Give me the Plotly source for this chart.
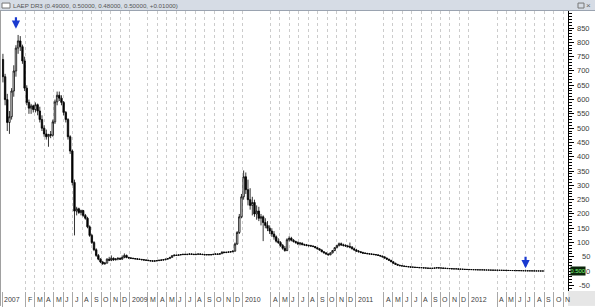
import plotly.graph_objects as go
import pandas as pd

title_text = "LAEP DR3 (0.49000, 0.50000, 0.48000, 0.50000, +0.01000)"
first_week = "2007-11-19"

opens = [740,680,600,520,540,630,700,780,805,785,
 735,640,590,570,578,565,582,560,530,500,
 480,470,478,475,522,592,615,605,590,555,
 530,470,420,310,210,218,205,212,195,185,
 155,125,100,75,55,42,32,26,28,42,
 38,45,40,42,45,42,48,55,48,46,
 45,44,43,42,41,40,39,38,37,36,
 35,36,37,38,39,40,42,44,48,54,
 56,55,57,58,59,58,59,60,59,58,
 59,60,59,58,57,58,57,58,59,60,
 59,61,66,65,66,67,68,70,95,135,
 190,260,330,285,250,230,240,200,210,185,
 190,170,160,150,140,130,120,105,100,90,
 80,72,110,115,108,104,100,95,98,93,
 92,90,89,88,86,82,78,74,68,64,
 60,57,64,72,82,90,96,92,90,88,
 86,84,78,74,70,68,65,63,62,61,
 60,59,58,57,55,53,50,46,42,38,
 33,28,24,21,19,18,17,16,15,14,
 14,13,13,12,12,11,11,10,10,10,
 11,12,11,11,10,10,9,9,8,8,
 8,7,7,6.5,6,6,5.5,5.5,5,5,
 4.5,4.5,4.5,4,4,3.8,3.6,3.5,3.3,3.2,
 3,2.9,2.7,2.6,2.4,2.3,2.1,2,1.9,1.7,
 1.6,1.4,1.3,1.1,1,0.9,0.8,0.7,0.6,0.49]

highs = [760,690,620,560,640,720,790,826,822,792,
 750,650,600,585,582,590,586,575,545,510,
 495,480,490,530,600,628,628,615,595,560,
 535,475,425,320,225,222,215,214,200,190,
 160,130,105,80,60,45,36,32,45,50,
 55,48,46,48,47,55,62,58,50,49,
 47,46,45,44,43,42,41,40,39,38,
 37,38,40,41,42,43,45,50,56,58,
 58,58,59,60,61,60,62,62,61,60,
 61,62,61,60,59,60,59,60,62,62,
 62,70,69,68,69,70,72,100,140,200,
 270,352,345,320,290,260,250,230,225,200,
 195,185,175,160,150,140,125,115,105,95,
 88,115,122,120,112,106,104,102,100,96,
 95,93,92,90,88,84,80,76,70,66,
 62,66,74,84,92,100,100,96,94,92,
 100,88,82,78,74,70,68,66,64,63,
 62,61,60,58,56,54,51,47,43,39,
 34,29,25,22,20,19,18,17,16,15,
 15,14,14,13,13,12,12,11,11,12,
 13,13,12,12,11,11,10,10,9,9,
 8.5,8,7.5,7,7,6.5,6,6,5.5,5.5,
 5,5,5,4.5,4.5,4.2,4,3.8,3.6,3.5,
 3.3,3.1,3,2.8,2.6,2.5,2.3,2.2,2,1.9,
 1.7,1.5,1.4,1.2,1.1,1,0.9,0.8,0.65,0.5]

lows = [660,580,490,480,530,610,680,760,770,725,
 630,580,550,550,555,555,545,520,490,470,
 460,435,465,470,515,580,595,580,545,520,
 460,410,300,125,195,200,195,190,180,150,
 120,95,70,50,38,28,22,22,27,35,
 35,36,37,38,40,40,45,45,44,43,
 42,41,40,39,38,37,36,35,34,34,
 33,34,35,36,37,38,40,43,47,52,
 53,54,55,56,57,56,57,58,57,56,
 57,58,57,56,55,56,55,56,57,58,
 58,60,63,63,64,65,66,68,92,130,
 185,250,270,230,215,195,190,180,175,160,
 105,150,140,130,120,110,100,95,85,75,
 68,70,104,104,100,96,92,90,90,88,
 87,86,85,84,80,76,72,66,62,58,
 55,56,62,70,80,86,88,86,85,82,
 80,76,72,68,65,63,61,60,59,58,
 57,56,55,53,51,48,44,40,36,31,
 26,22,20,18,17,16,15,14,13,13,
 12,12,11,11,10,10,9,9,9,9,
 10,10,10,9,9,8,8,7,7,7,
 6.5,6,6,5.5,5.5,5,5,4.5,4.5,4,
 4,4,3.5,3.5,3.5,3.4,3.2,3.1,3,2.8,
 2.7,2.5,2.4,2.2,2.1,2,1.8,1.7,1.5,1.4,
 1.2,1.1,1,0.9,0.8,0.7,0.6,0.55,0.48,0.48]

closes = [680,600,520,540,630,700,780,805,785,735,
 640,590,570,578,565,582,560,530,500,480,
 470,478,475,522,592,615,605,590,555,530,
 470,420,310,210,218,205,212,195,185,155,
 125,100,75,55,42,32,26,28,42,38,
 45,40,42,45,42,48,55,48,46,45,
 44,43,42,41,40,39,38,37,36,35,
 36,37,38,39,40,42,44,48,54,56,
 55,57,58,59,58,59,60,59,58,59,
 60,59,58,57,58,57,58,59,60,59,
 61,66,65,66,67,68,70,95,135,190,
 260,330,285,250,230,240,200,210,185,190,
 170,160,150,140,130,120,105,100,90,80,
 72,110,115,108,104,100,95,98,93,92,
 90,89,88,86,82,78,74,68,64,60,
 57,64,72,82,90,96,92,90,88,86,
 84,78,74,70,68,65,63,62,61,60,
 59,58,57,55,53,50,46,42,38,33,
 28,24,21,19,18,17,16,15,14,14,
 13,13,12,12,11,11,10,10,10,11,
 12,11,11,10,10,9,9,8,8,8,
 7,7,6.5,6,6,5.5,5.5,5,5,4.5,
 4.5,4.5,4,4,3.8,3.6,3.5,3.3,3.2,3,
 2.9,2.7,2.6,2.4,2.3,2.1,2,1.9,1.7,1.6,
 1.4,1.3,1.1,1,0.9,0.8,0.7,0.6,0.49,0.5]

tick_dates = ["2007-11-16", "2008-02-01", "2008-03-01", "2008-04-01", "2008-05-01",
 "2008-06-01", "2008-07-01", "2008-08-01", "2008-09-01", "2008-10-01", "2008-11-01",
 "2008-12-01", "2009-01-01", "2009-03-01", "2009-04-01", "2009-05-01", "2009-06-01",
 "2009-07-01", "2009-08-01", "2009-09-01", "2009-10-01", "2009-11-01", "2009-12-01",
 "2010-01-01", "2010-04-01", "2010-05-01", "2010-06-01", "2010-07-01", "2010-08-01",
 "2010-09-01", "2010-10-01", "2010-11-01", "2010-12-01", "2011-01-01", "2011-04-01",
 "2011-05-01", "2011-06-01", "2011-07-01", "2011-08-01", "2011-09-01", "2011-10-01",
 "2011-11-01", "2011-12-01", "2012-01-01", "2012-04-01", "2012-05-01", "2012-06-01",
 "2012-07-01", "2012-08-01", "2012-09-01", "2012-10-01", "2012-11-01"]
tick_labels = ["2007", "F", "M", "A", "M", "J", "J", "A", "S", "O", "N", "D",
 "2009", "M", "A", "M", "J", "J", "A", "S", "O", "N", "D",
 "2010", "A", "M", "J", "J", "A", "S", "O", "N", "D",
 "2011", "A", "M", "J", "J", "A", "S", "O", "N", "D",
 "2012", "A", "M", "J", "J", "A", "S", "O", "N"]

y_ticks = [-50, 0, 50, 100, 150, 200, 250, 300, 350, 400, 450, 500, 550, 600, 650, 700, 750, 800, 850]
last_price = 0.5
last_price_text = "0.500"
arrow_dates = ["2007-12-31", "2012-07-02"]
arrow_values = [848, 10]

x_range = ["2007-11-16", "2012-11-16"]
y_range = [-69.4, 909.7]

W, H = 595, 308
ML, MR, MT, MB = 2, 27, 11, 15
PW, PH = W - ML - MR, H - MT - MB


def px_x(p):
    return (p - ML) / PW


def px_y(q):
    return (H - MB - q) / PH


dates = pd.date_range(first_week, periods=len(closes), freq="7D")

fig = go.Figure()
fig.add_trace(go.Candlestick(
    x=dates, open=opens, high=highs, low=lows, close=closes,
    increasing=dict(line=dict(color="black", width=0.8), fillcolor="white"),
    decreasing=dict(line=dict(color="black", width=0.8), fillcolor="black"),
    whiskerwidth=0, showlegend=False, hoverinfo="skip"))

font = "Liberation Sans, Arial, sans-serif"
ann = []
for v in y_ticks:
    ann.append(dict(xref="paper", yref="y", x=1, y=v, xshift=23, xanchor="right",
                    yanchor="middle", text=str(v), showarrow=False, borderpad=0,
                    font=dict(family=font, size=7.5, color="#404040")))
for d, t in zip(tick_dates, tick_labels):
    ann.append(dict(xref="x", yref="paper", x=d, y=0, yshift=-8, xanchor="left",
                    yanchor="middle", xshift=1, text=t, showarrow=False, borderpad=0,
                    font=dict(family=font, size=7, color="#404040")))
for d, v in zip(arrow_dates, arrow_values):
    ann.append(dict(xref="x", yref="y", x=d, y=v, ax=0, ay=-13, text="",
                    showarrow=True, arrowhead=2, arrowsize=0.75, arrowwidth=2.2,
                    arrowcolor="#1a3ad0", standoff=0))
ann.append(dict(xref="paper", yref="y", x=1, y=last_price, xshift=2, xanchor="left",
                yanchor="middle", text=last_price_text, showarrow=False,
                width=14, height=8, bgcolor="#0b240b", borderpad=0,
                font=dict(family=font, size=6, color="#7dff7d")))
ann.append(dict(xref="paper", yref="paper", x=px_x(12), y=px_y(5.5), xanchor="left",
                yanchor="middle", text=title_text, showarrow=False, borderpad=0,
                font=dict(family=font, size=6.2, color="#555555")))
ann.append(dict(xref="paper", yref="paper", x=px_x(592), y=px_y(5.5), xanchor="right",
                yanchor="middle", text="×", showarrow=False, borderpad=0,
                font=dict(family=font, size=8, color="#666666")))

shapes = [
    dict(type="rect", xref="paper", yref="paper", x0=px_x(0), x1=px_x(W), y0=px_y(10.5), y1=px_y(0),
         fillcolor="#d6dce5", line=dict(width=0), layer="above"),
    dict(type="line", xref="paper", yref="paper", x0=px_x(0), x1=px_x(W), y0=px_y(10.5), y1=px_y(10.5),
         line=dict(color="#9aa3b0", width=1)),
    dict(type="rect", xref="paper", yref="paper", x0=px_x(2), x1=px_x(10), y0=px_y(8), y1=px_y(3),
         fillcolor="white", line=dict(color="#777777", width=1)),
    dict(type="rect", xref="paper", yref="paper", x0=px_x(578), x1=px_x(584), y0=px_y(8), y1=px_y(3),
         fillcolor="rgba(0,0,0,0)", line=dict(color="#777777", width=1)),
    dict(type="rect", xref="paper", yref="paper", x0=px_x(568), x1=px_x(W), y0=px_y(H), y1=px_y(H - MB),
         fillcolor="#e6e6e6", line=dict(width=0), layer="below"),
    dict(type="line", xref="paper", yref="paper", x0=px_x(0.5), x1=px_x(0.5), y0=px_y(H), y1=px_y(10.5),
         line=dict(color="#a0a0a0", width=1)),
]

fig.update_layout(
    width=W, height=H, margin=dict(l=ML, r=MR, t=MT, b=MB),
    paper_bgcolor="white", plot_bgcolor="white", boxgap=0.05,
    annotations=ann, shapes=shapes,
    xaxis=dict(type="date", range=x_range, tickmode="array", tickvals=tick_dates,
               showticklabels=False, ticks="outside", ticklen=15, tickcolor="#a8a8a8",
               tickwidth=1, showgrid=True, gridcolor="#cccccc", griddash="dot", gridwidth=1,
               showline=False, zeroline=False, rangeslider=dict(visible=False), fixedrange=True),
    yaxis=dict(side="right", range=y_range, tickmode="array", tickvals=y_ticks,
               showticklabels=False, ticks="outside", ticklen=5, tickcolor="black",
               showline=True, linecolor="black", linewidth=1, showgrid=False,
               zeroline=False, fixedrange=True,
               minor=dict(tick0=0, dtick=10, ticks="outside", ticklen=3,
                          tickcolor="black", showgrid=False)),
)

fig.write_html("out.html")
